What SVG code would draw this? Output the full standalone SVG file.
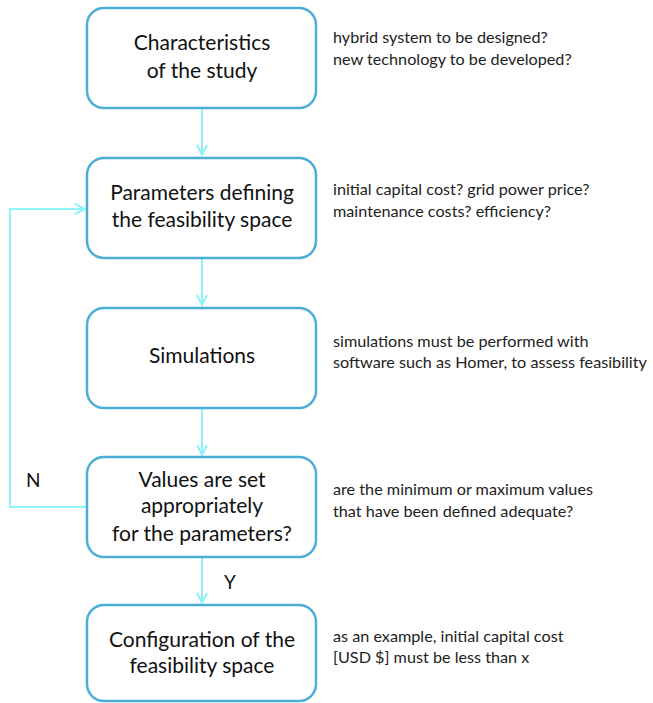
<svg xmlns="http://www.w3.org/2000/svg" width="653" height="703" viewBox="0 0 653 703">
<style>
.box{fill:#fff;stroke:#4aaed6;stroke-width:2.5}
.bt{font-family:Lato,"Open Sans",sans-serif;font-size:21px;fill:#111;text-anchor:middle}
.st{font-family:Lato,"Open Sans",sans-serif;font-size:16.2px;fill:#222}
.lbl{font-family:Lato,"Open Sans",sans-serif;font-size:19px;fill:#111}
.con{fill:none;stroke:#8ef3fb;stroke-width:2}
</style>
<defs>
<marker id="ah" viewBox="0 0 12 12" refX="11" refY="6" markerWidth="12" markerHeight="12" markerUnits="userSpaceOnUse" orient="auto">
<path d="M1,1 L11,6 L1,11" fill="none" stroke="#8ef3fb" stroke-width="2"/>
</marker>
</defs>
<g id="connectors">
<line class="con" x1="202" y1="109" x2="202" y2="155" marker-end="url(#ah)"/>
<line class="con" x1="202" y1="259" x2="202" y2="305" marker-end="url(#ah)"/>
<line class="con" x1="202" y1="409" x2="202" y2="455" marker-end="url(#ah)"/>
<line class="con" x1="202" y1="558" x2="202" y2="603" marker-end="url(#ah)"/>
<polyline class="con" points="86,507 10,507 10,209 85,209" marker-end="url(#ah)"/>
<text class="lbl" x="26" y="487">N</text>
<text class="lbl" x="224" y="589">Y</text>
</g>
<g id="n1">
<rect class="box" x="87" y="8" width="229" height="100" rx="17"/>
<text class="bt" x="202" y="50">Characteristics</text>
<text class="bt" x="202" y="78">of the study</text>
<text class="st" x="333" y="43">hybrid system to be designed?</text>
<text class="st" x="333" y="65">new technology to be developed?</text>
</g>
<g id="n2">
<rect class="box" x="87" y="158" width="229" height="100" rx="17"/>
<text class="bt" x="202" y="200">Parameters defining</text>
<text class="bt" x="202" y="227">the feasibility space</text>
<text class="st" x="333" y="195">initial capital cost? grid power price?</text>
<text class="st" x="333" y="217">maintenance costs? efficiency?</text>
</g>
<g id="n3">
<rect class="box" x="87" y="308" width="229" height="100" rx="17"/>
<text class="bt" x="202" y="363">Simulations</text>
<text class="st" x="333" y="347">simulations must be performed with</text>
<text class="st" x="333" y="368">software such as Homer, to assess feasibility</text>
</g>
<g id="n4">
<rect class="box" x="87" y="457" width="229" height="100" rx="17"/>
<text class="bt" x="202" y="487">Values are set</text>
<text class="bt" x="202" y="513">appropriately</text>
<text class="bt" x="202" y="541">for the parameters?</text>
<text class="st" x="333" y="495">are the minimum or maximum values</text>
<text class="st" x="333" y="517">that have been defined adequate?</text>
</g>
<g id="n5">
<rect class="box" x="87" y="605" width="229" height="96" rx="17"/>
<text class="bt" x="202" y="647">Configuration of the</text>
<text class="bt" x="202" y="673">feasibility space</text>
<text class="st" x="333" y="642">as an example, initial capital cost</text>
<text class="st" x="333" y="663">[USD $] must be less than x</text>
</g>
</svg>
